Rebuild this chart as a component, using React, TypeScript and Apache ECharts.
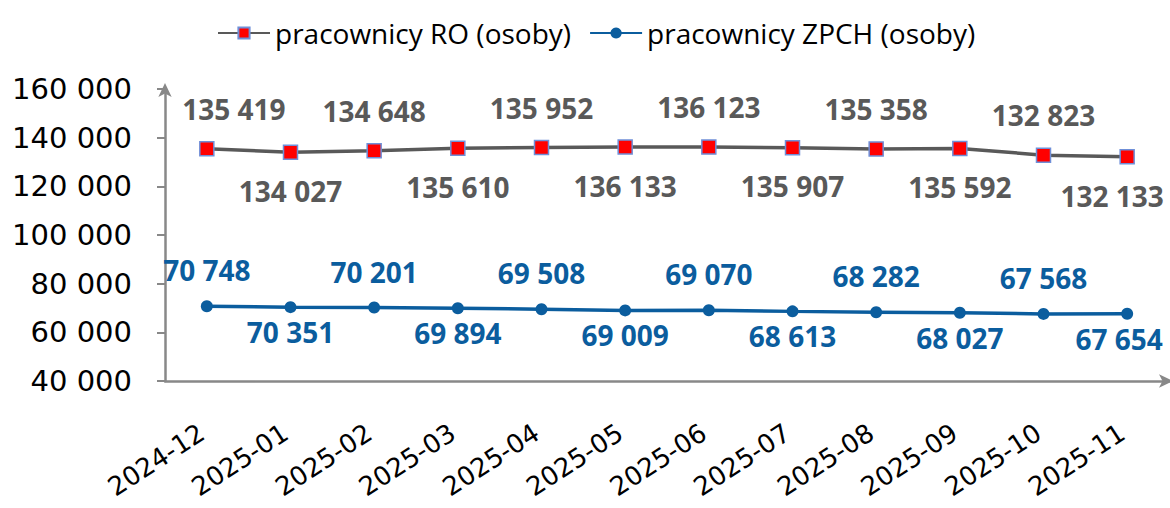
import React, { useEffect, useRef } from "react";
import * as echarts from "echarts";

const categories = ["2024-12", "2025-01", "2025-02", "2025-03", "2025-04", "2025-05", "2025-06", "2025-07", "2025-08", "2025-09", "2025-10", "2025-11"];
const roValues = [135419, 134027, 134648, 135610, 135952, 136133, 136123, 135907, 135358, 135592, 132823, 132133];
const zpchValues = [70748, 70351, 70201, 69894, 69508, 69009, 69070, 68613, 68282, 68027, 67568, 67654];
const seriesNames = ["pracownicy RO (osoby)", "pracownicy ZPCH (osoby)"];
const yMin = 40000;
const yMax = 160000;
const yInterval = 20000;

const fmt = (v: number) => String(v).replace(/\B(?=(\d{3})+(?!\d))/g, " ");
const LABEL_FONT = "Open Sans";
const AXIS_FONT = "DejaVu Sans";

export default function App() {
  const ref = useRef<HTMLDivElement>(null);
  useEffect(() => {
    if (!ref.current) return;
    const chart = echarts.init(ref.current, null, { renderer: "svg" });
    const n = categories.length;
    const roData = roValues.map((v, i) => ({
      value: v,
      label: {
        position: i % 2 === 0 ? "top" : "bottom",
        distance: i % 2 === 0 ? 18 : 17,
        offset: [i === 0 ? 27 : i === n - 1 ? -15 : 0, 0],
      },
    }));
    const zpData = zpchValues.map((v, i) => ({
      value: v,
      label: {
        position: i % 2 === 0 ? "top" : "bottom",
        distance: i % 2 === 0 ? 16 : 5,
        offset: [i === n - 1 ? -8 : 0, 0],
      },
    }));
    chart.setOption({
      animation: false,
      textStyle: { fontFamily: LABEL_FONT },
      legend: {
        top: 14,
        left: 212,
        itemWidth: 52,
        itemHeight: 14,
        itemGap: 18,
        textStyle: { fontSize: 28, color: "#000", fontFamily: LABEL_FONT },
        data: seriesNames,
      },
      grid: { left: 165, top: 89, bottom: 127, right: 1, containLabel: false, outerBoundsMode: "none" },
      xAxis: {
        type: "category",
        data: categories,
        boundaryGap: true,
        axisLine: {
          lineStyle: { color: "#888888", width: 2.5 },
          symbol: ["none", "arrow"],
          symbolSize: [10, 14],
          symbolOffset: [0, 4],
        },
        axisTick: { show: false },
        axisLabel: {
          rotate: 33,
          fontSize: 26,
          color: "#000",
          fontFamily: AXIS_FONT,
          margin: 46,
          interval: 0,
          padding: [0, 6, 0, 0],
        },
      },
      yAxis: {
        type: "value",
        min: yMin,
        max: yMax,
        interval: yInterval,
        splitLine: { show: false },
        axisLine: {
          show: true,
          lineStyle: { color: "#888888", width: 2.5 },
          symbol: ["none", "arrow"],
          symbolSize: [10, 14],
          symbolOffset: [0, 6],
        },
        axisTick: { show: true, length: 8, lineStyle: { color: "#888888", width: 2 } },
        axisLabel: {
          fontSize: 29,
          color: "#000",
          fontFamily: AXIS_FONT,
          margin: 33,
          formatter: (v: number) => fmt(v),
        },
      },
      series: [
        {
          name: seriesNames[0],
          type: "line",
          data: roData,
          symbol: "rect",
          symbolSize: 14,
          lineStyle: { color: "#595959", width: 3.5 },
          itemStyle: { color: "#FF0000", borderColor: "#6F8FD8", borderWidth: 1.5 },
          label: {
            show: true,
            fontSize: 28,
            fontWeight: "bold",
            color: "#595959",
            fontFamily: LABEL_FONT,
            formatter: (p: any) => fmt(p.value),
          },
        },
        {
          name: seriesNames[1],
          type: "line",
          data: zpData,
          symbol: "circle",
          symbolSize: 12,
          lineStyle: { color: "#0B5D9E", width: 3.5 },
          itemStyle: { color: "#0B5D9E" },
          label: {
            show: true,
            fontSize: 28,
            fontWeight: "bold",
            color: "#0B5D9E",
            fontFamily: LABEL_FONT,
            formatter: (p: any) => fmt(p.value),
          },
        },
      ],
    });
    return () => chart.dispose();
  }, []);
  return <div ref={ref} style={{ position: "fixed", left: 0, top: 0, width: 1170, height: 508, background: "#fff" }} />;
}
